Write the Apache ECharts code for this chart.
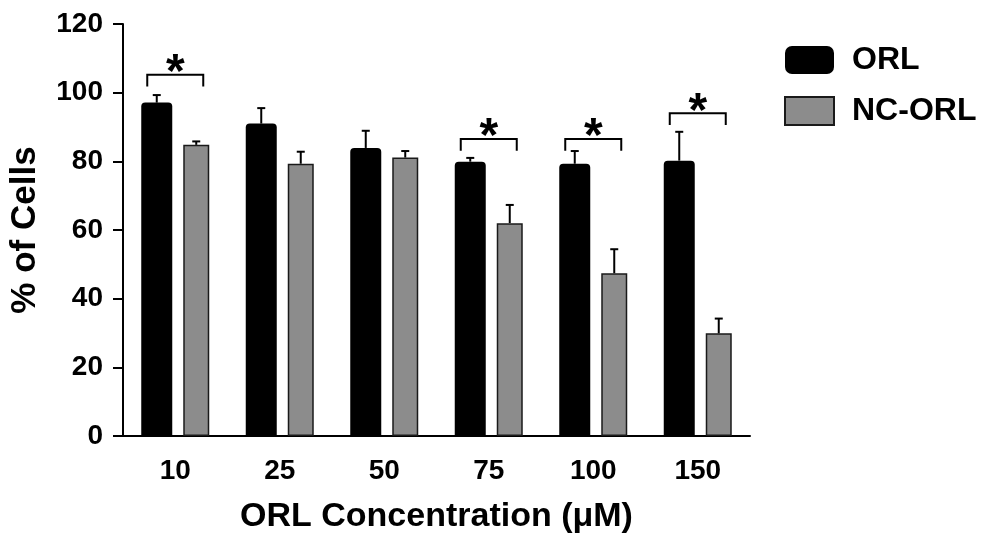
<!DOCTYPE html>
<html>
<head>
<meta charset="utf-8">
<script src="https://cdn.jsdelivr.net/npm/echarts@6/dist/echarts.min.js"></script>
<style>
  html, body { margin: 0; padding: 0; background: #fff; }
  #main { width: 986px; height: 541px; }
</style>
</head>
<body>
<div id="main"></div>
<script>
  const categories = ['10', '25', '50', '75', '100', '150'];
  const orlMean = [97.1, 91.0, 83.9, 79.9, 79.3, 80.2];
  const orlSem = [2.2, 4.5, 5.0, 1.1, 3.7, 8.4];
  const ncMean = [84.8, 79.3, 81.1, 62.0, 47.4, 29.9];
  const ncSem = [1.0, 3.5, 1.9, 5.3, 7.0, 4.3];
  // significance brackets: category index, bracket height
  const sigIndex = [0, 3, 4, 5];
  const sigHeight = [105.2, 86.5, 86.5, 94.0];

  const font = '"Liberation Sans", Arial, sans-serif';
  const chart = echarts.init(document.getElementById('main'));

  const blackW = 31, greyW = 26, gap = 11;
  const total = blackW + gap + greyW;
  const orlOffset = -total / 2 + blackW / 2;
  const ncOffset = total / 2 - greyW / 2;

  function errorBars(offset) {
    return function (params, api) {
      const base = api.coord([api.value(0), api.value(1)]);
      const top = api.coord([api.value(0), api.value(2)]);
      const x = base[0] + offset;
      return {
        type: 'group',
        children: [
          { type: 'line', shape: { x1: x, y1: base[1], x2: x, y2: top[1] },
            style: { stroke: '#000', lineWidth: 2 } },
          { type: 'line', shape: { x1: x - 4, y1: top[1], x2: x + 4, y2: top[1] },
            style: { stroke: '#000', lineWidth: 2 } }
        ]
      };
    };
  }

  chart.setOption({
    animation: false,
    grid: { left: 122, right: 236, top: 24, bottom: 105 },
    legend: {
      orient: 'vertical',
      left: 779,
      top: 39,
      itemWidth: 49,
      itemHeight: 28,
      itemGap: 19,
      data: [{ name: 'ORL', icon: 'roundRect' }, { name: 'NC-ORL', icon: 'rect' }],
      textStyle: { fontSize: 32, fontWeight: 'bold', color: '#000', fontFamily: font, padding: [0, 0, 0, 13] }
    },
    xAxis: {
      type: 'category',
      data: categories,
      name: 'ORL Concentration (μM)',
      nameLocation: 'middle',
      nameGap: 64,
      nameTextStyle: { fontSize: 34, fontWeight: 'bold', color: '#000', fontFamily: font },
      axisLine: { lineStyle: { color: '#000', width: 2 } },
      axisTick: { alignWithLabel: true, length: 10, lineStyle: { color: '#000', width: 2 } },
      axisLabel: { margin: 21, fontSize: 28, fontWeight: 'bold', color: '#000', fontFamily: font }
    },
    yAxis: {
      type: 'value',
      min: 0,
      max: 120,
      interval: 20,
      name: '% of Cells',
      nameLocation: 'middle',
      nameGap: 80,
      nameTextStyle: { fontSize: 35, fontWeight: 'bold', color: '#000', fontFamily: font },
      axisLine: { show: true, lineStyle: { color: '#000', width: 2 } },
      axisTick: { show: true, length: 10, lineStyle: { color: '#000', width: 2 } },
      axisLabel: { margin: 20, fontSize: 28, fontWeight: 'bold', color: '#000', fontFamily: font },
      splitLine: { show: false }
    },
    series: [
      {
        name: 'ORL',
        type: 'bar',
        data: orlMean,
        barWidth: blackW,
        itemStyle: { color: '#000', borderRadius: [4, 4, 0, 0] }
      },
      {
        name: 'NC-ORL',
        type: 'bar',
        data: ncMean,
        barWidth: greyW,
        barGap: (gap / blackW * 100) + '%',
        itemStyle: { color: '#8c8c8c', borderColor: '#1a1a1a', borderWidth: 1.5 }
      },
      {
        type: 'custom',
        renderItem: errorBars(orlOffset),
        data: orlMean.map((v, i) => [i, v, v + orlSem[i]]),
        z: 3
      },
      {
        type: 'custom',
        renderItem: errorBars(ncOffset),
        data: ncMean.map((v, i) => [i, v, v + ncSem[i]]),
        z: 3
      },
      {
        type: 'custom',
        data: sigIndex.map((c, i) => [c, sigHeight[i], sigHeight[i] - 3.4]),
        renderItem: function (params, api) {
          const line = api.coord([api.value(0), api.value(1)]);
          const leg = api.coord([api.value(0), api.value(2)]);
          const cx = line[0];
          const half = 28;
          return {
            type: 'group',
            children: [
              { type: 'polyline',
                shape: { points: [[cx - half, leg[1]], [cx - half, line[1]], [cx + half, line[1]], [cx + half, leg[1]]] },
                style: { stroke: '#000', lineWidth: 2, fill: null } },
              { type: 'text',
                style: { x: cx, y: line[1] - 1, text: '*', fill: '#000', font: 'bold 48px ' + font,
                  textAlign: 'center', textVerticalAlign: 'middle' } }
            ]
          };
        },
        z: 3
      }
    ]
  });
</script>
</body>
</html>
